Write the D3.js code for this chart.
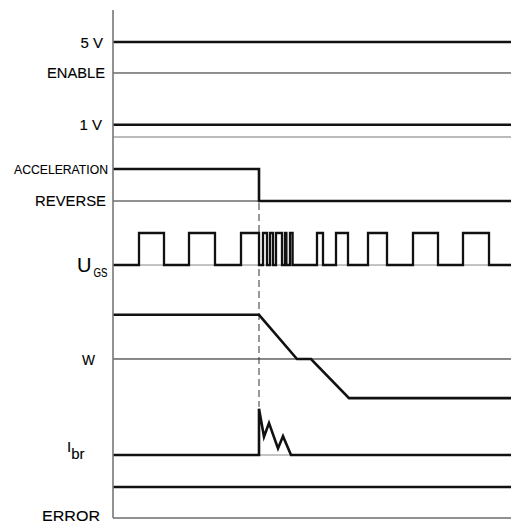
<!DOCTYPE html>
<html>
<head>
<meta charset="utf-8">
<script src="https://cdn.jsdelivr.net/npm/d3@7"></script>
<style>
  body { margin: 0; background: #fff; }
  text { font-family: "Liberation Sans", Arial, sans-serif; fill: #000; stroke: #000; stroke-width: 0.12px; }
</style>
</head>
<body>
<svg id="chart"></svg>
<script>
// time axis in arbitrary units, signal levels in arbitrary units
let tEnd = 199;
let tEvent = 73; // switch from acceleration to reverse

// constant rails
let rails = [
  { name: "5 V", level: 93.7, thick: true },
  { name: "ENABLE", level: 87.6, thick: false },
  { name: "1 V", level: 77.4, thick: true },
  { name: "", level: 75.0, thick: false }
];

let accelLevel = 68.7;
let reverseLevel = 62.4;

// U_GS pwm: high intervals [start, end]
let ugsLow = 49.8;
let ugsHigh = 56.1;
let ugsPulses = [
  [13, 25.5], [38, 51], [64, 73],
  [75, 77], [78.5, 80], [81.5, 84.5], [86, 86.7], [88.5, 89.8],
  [102, 105], [111.5, 117.5], [127.5, 137], [150, 162.5], [175, 188]
];

// speed w
let wTime = [0, 73, 92, 99, 118, 199];
let wLevel = [40.0, 40.0, 31.3, 31.3, 23.6, 23.6];
let wRef = 31.3;

// braking current
let ibrTime = [0, 73, 73, 75.5, 78, 82.5, 85, 89, 199];
let ibrLevel = [12.4, 12.4, 21.5, 16.0, 18.7, 13.7, 16.1, 12.4, 12.4];

let errorLevel = 6.1;
let bottomLevel = 0;

let width = 511;
let height = 524;
let originX = 113;

let svg = d3.select("#chart").attr("width", width).attr("height", height);

let x = d3.scaleLinear().domain([0, tEnd]).range([originX, 511]);
let y = d3.scaleLinear().domain([0, 100]).range([518, 10]);

let thickW = 2.6;
let thinW = 1;

function hline(level, t0, t1, w, color) {
  svg.append("line")
    .attr("x1", x(t0)).attr("x2", x(t1))
    .attr("y1", y(level)).attr("y2", y(level))
    .attr("stroke", color || "#111")
    .attr("stroke-width", w);
}

let line = d3.line().x(d => x(d[0])).y(d => y(d[1]));

// thin reference lines first
hline(ugsLow, 0, tEnd, thinW, "#888");
hline(wRef, 0, tEnd, thinW, "#111");
hline(12.4, tEvent, 89, thinW, "#888");
hline(reverseLevel, 0, tEvent, thinW, "#222");
hline(bottomLevel, 0, tEnd, thinW, "#222");

rails.forEach(r => {
  hline(r.level, 0, tEnd, r.thick ? thickW : thinW, r.thick ? "#111" : (r.name ? "#222" : "#777"));
});

// dashed event marker
svg.append("line")
  .attr("x1", x(tEvent)).attr("x2", x(tEvent))
  .attr("y1", y(reverseLevel) + 2).attr("y2", y(21.5) - 2)
  .attr("stroke", "#333").attr("stroke-width", 1)
  .attr("stroke-dasharray", "7,4");

// direction signal
svg.append("path")
  .datum([[0, accelLevel], [tEvent, accelLevel], [tEvent, reverseLevel], [tEnd, reverseLevel]])
  .attr("d", line).attr("fill", "none")
  .attr("stroke", "#111").attr("stroke-width", thickW);

// U_GS pulses
let ugsPts = [[0, ugsLow]];
ugsPulses.forEach(p => {
  ugsPts.push([p[0], ugsLow], [p[0], ugsHigh], [p[1], ugsHigh], [p[1], ugsLow]);
});
ugsPts.push([tEnd, ugsLow]);
svg.append("path")
  .datum(ugsPts)
  .attr("d", line).attr("fill", "none")
  .attr("stroke", "#111").attr("stroke-width", thickW - 0.3)
  .attr("stroke-linejoin", "miter");

// w
svg.append("path")
  .datum(d3.zip(wTime, wLevel))
  .attr("d", line).attr("fill", "none")
  .attr("stroke", "#111").attr("stroke-width", thickW);

// I_br
svg.append("path")
  .datum(d3.zip(ibrTime, ibrLevel))
  .attr("d", line).attr("fill", "none")
  .attr("stroke", "#111").attr("stroke-width", thickW)
  .attr("stroke-linejoin", "miter");

// error
hline(errorLevel, 0, tEnd, thickW, "#111");

// vertical axis
svg.append("line")
  .attr("x1", originX).attr("x2", originX)
  .attr("y1", y(100)).attr("y2", y(bottomLevel))
  .attr("stroke", "#777").attr("stroke-width", 1.6);

// labels
function label(txt, level, dx, dy, size, len) {
  let t = svg.append("text")
    .attr("x", originX + dx).attr("y", y(level) + dy)
    .attr("text-anchor", "end")
    .style("font-size", size + "px")
    .text(txt);
  if (len) t.attr("textLength", len).attr("lengthAdjust", "spacingAndGlyphs");
  return t;
}

label(rails[0].name, rails[0].level, -10, 5.5, 15);
label(rails[1].name, rails[1].level, -8, 5, 14, 58);
label(rails[2].name, rails[2].level, -11, 5.5, 15);
label("ACCELERATION", accelLevel, -5, 5, 13.5, 94);
label("REVERSE", reverseLevel, -7, 5, 14, 71);
label("W", wRef, -18, 6, 15, 13);
label("ERROR", bottomLevel, -13, 3, 14.5, 58);

// U_GS
let u = svg.append("text")
  .attr("x", 77).attr("y", y(ugsLow) + 7)
  .style("font-size", "20px");
u.append("tspan").text("U");
u.append("tspan").attr("dy", 5).attr("dx", 2).style("font-size", "12.5px")
  .attr("textLength", 14).attr("lengthAdjust", "spacingAndGlyphs").text("GS");

// I_br
let ib = svg.append("text")
  .attr("x", 67).attr("y", y(12.4) - 3)
  .style("font-size", "15px");
ib.append("tspan").text("I");
ib.append("tspan").attr("dy", 7).style("font-size", "15px").text("br");
</script>
</body>
</html>
